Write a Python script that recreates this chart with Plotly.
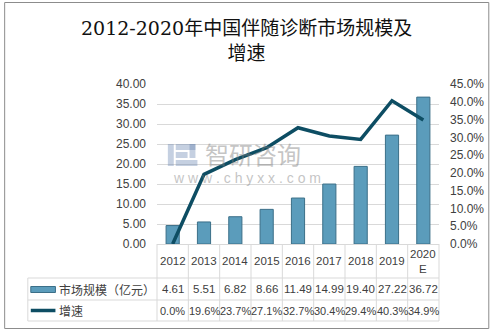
import plotly.graph_objects as go

years = ["2012", "2013", "2014", "2015", "2016", "2017", "2018", "2019", "2020E"]
year_labels = ["2012", "2013", "2014", "2015", "2016", "2017", "2018", "2019", "2020<br>E"]
market_size = [4.61, 5.51, 6.82, 8.66, 11.49, 14.99, 19.40, 27.22, 36.72]
growth = [0.0, 19.6, 23.7, 27.1, 32.7, 30.4, 29.4, 40.3, 34.9]
series_names = ["市场规模（亿元）", "增速"]
title_text = "2012-2020年中国伴随诊断市场规模及<br>增速"

W, H = 496, 331
L, R, T, B = 157, 443, 84, 244  # plot area in pixels


def px(x):
    return (x - L) / (R - L)


def py(y):
    return (B - y) / (B - T)


BAR = "#5b9cbb"
LINE = "#0d4d63"
GRID = "#d9d9d9"
TXT = "#404040"
FONT = "Liberation Sans"

fig = go.Figure()
fig.add_trace(go.Bar(
    x=years, y=market_size, name=series_names[0],
    marker=dict(color=BAR, line=dict(color="#3b6f88", width=1)),
    width=0.42,
))
fig.add_trace(go.Scatter(
    x=years, y=growth, name=series_names[1], yaxis="y2",
    mode="lines", line=dict(color=LINE, width=3.5), cliponaxis=False,
))

shapes = []
ann = []

# table grid
n = len(years)
colw = (R - L) / n
edges = [L + i * colw for i in range(n + 1)]
row1, row2, row3 = 278, 300, 321
for i, e in enumerate(edges):
    shapes.append(dict(type="line", xref="paper", yref="paper",
                       x0=px(e), x1=px(e), y0=py(B), y1=py(row3),
                       line=dict(color=GRID, width=1)))
for yy in (row1, row2, row3):
    shapes.append(dict(type="line", xref="paper", yref="paper",
                       x0=px(26), x1=px(R), y0=py(yy), y1=py(yy),
                       line=dict(color=GRID, width=1)))
shapes.append(dict(type="line", xref="paper", yref="paper",
                   x0=px(26), x1=px(26), y0=py(row1), y1=py(row3),
                   line=dict(color=GRID, width=1)))

# legend keys
shapes.append(dict(type="rect", xref="paper", yref="paper",
                   x0=px(29), x1=px(54), y0=py(286.5), y1=py(292.5),
                   fillcolor=BAR, line=dict(color="#3b6f88", width=1)))
shapes.append(dict(type="line", xref="paper", yref="paper",
                   x0=px(29), x1=px(54), y0=py(310.5), y1=py(310.5),
                   line=dict(color=LINE, width=3.5)))
ann.append(dict(x=px(56), y=py(289), xref="paper", yref="paper", text=series_names[0],
                showarrow=False, xanchor="left", yanchor="middle",
                font=dict(family="Noto Sans CJK SC", size=12, color=TXT)))
ann.append(dict(x=px(56), y=py(310.5), xref="paper", yref="paper", text=series_names[1],
                showarrow=False, xanchor="left", yanchor="middle",
                font=dict(family="Noto Sans CJK SC", size=12, color=TXT)))

for i in range(n):
    cx = px(edges[i] + colw / 2)
    ann.append(dict(x=cx, y=py(261), xref="paper", yref="paper", text=year_labels[i],
                    showarrow=False, xanchor="center", yanchor="middle",
                    font=dict(family=FONT, size=11.5, color=TXT)))
    ann.append(dict(x=cx, y=py(289), xref="paper", yref="paper", text=f"{market_size[i]:.2f}",
                    showarrow=False, xanchor="center", yanchor="middle",
                    font=dict(family=FONT, size=11.5, color=TXT)))
    ann.append(dict(x=cx, y=py(310.5), xref="paper", yref="paper", text=f"{growth[i]:.1f}%",
                    showarrow=False, xanchor="center", yanchor="middle",
                    font=dict(family=FONT, size=11, color=TXT)))

# watermark logo (simple blocks)
for (x0, y0, x1, y1) in [(168, 144, 174, 166), (176, 144, 196, 150), (190, 144, 196, 158),
                         (176, 152, 188, 158), (176, 160, 198, 166)]:
    shapes.append(dict(type="rect", xref="paper", yref="paper",
                       x0=px(x0), x1=px(x1), y0=py(y0), y1=py(y1),
                       fillcolor="rgba(90,120,170,0.35)", line=dict(width=0)))
ann.append(dict(x=px(204), y=py(153), xref="paper", yref="paper", text="智研咨询",
                showarrow=False, xanchor="left", yanchor="middle", opacity=0.45,
                font=dict(family="Noto Sans CJK SC", size=24, color="#7f7f7f")))
ann.append(dict(x=px(248), y=py(178), xref="paper", yref="paper", text="w w w . c h y x x . c o m",
                showarrow=False, xanchor="center", yanchor="middle", opacity=0.45,
                font=dict(family=FONT, size=14, color="#7f7f7f")))

# title
ann.append(dict(x=px(248), y=py(41), xref="paper", yref="paper", text=title_text,
                showarrow=False, xanchor="center", yanchor="middle",
                font=dict(family="DejaVu Serif, Noto Sans CJK SC", size=19, color="#111111")))

# outer border
shapes.append(dict(type="rect", xref="paper", yref="paper",
                   x0=px(2.5), x1=px(493.5), y0=py(2.5), y1=py(328.5),
                   line=dict(color="#8c8c8c", width=1), fillcolor="rgba(0,0,0,0)", layer="below"))

fig.update_layout(
    width=W, height=H,
    margin=dict(l=L, r=W - R, t=T, b=H - B),
    paper_bgcolor="white", plot_bgcolor="white",
    showlegend=False,
    bargap=0.58,
    xaxis=dict(type="category", showticklabels=False, showgrid=False,
               showline=True, linecolor=GRID, linewidth=1, zeroline=False,
               ticks="", range=[-0.5, n - 0.5]),
    yaxis=dict(range=[0, 40], dtick=5, tickformat=".2f", showgrid=True, gridcolor=GRID,
               zeroline=False, showline=False, ticks="", ticklabelstandoff=10,
               tickfont=dict(family=FONT, size=12, color=TXT)),
    yaxis2=dict(range=[0, 45], dtick=5, overlaying="y", side="right", showgrid=False,
                zeroline=False, showline=False, ticks="", ticksuffix="%", tickformat=".1f",
                ticklabelstandoff=10, tickfont=dict(family=FONT, size=12, color=TXT)),
    shapes=shapes, annotations=ann,
)

fig.write_html("out.html")
